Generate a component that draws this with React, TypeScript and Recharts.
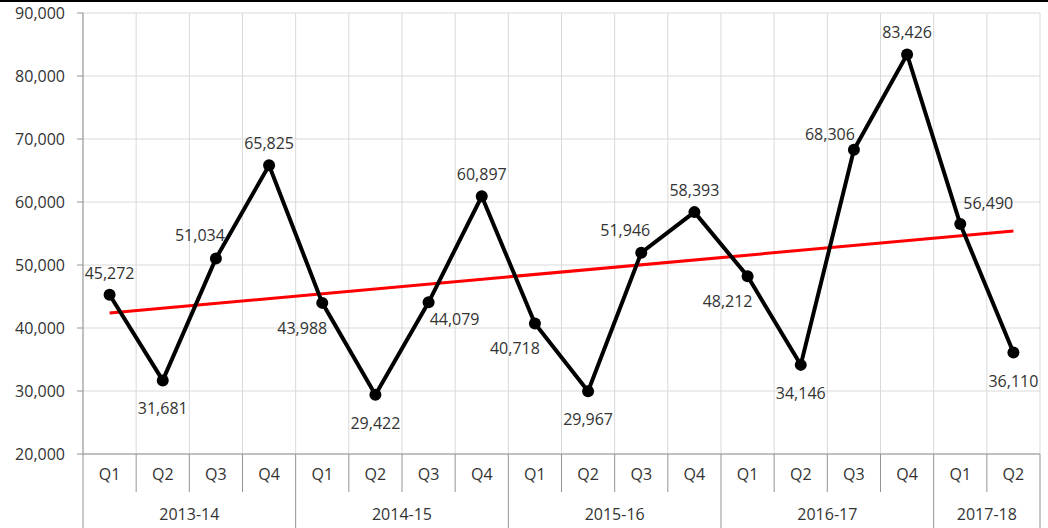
import React from "react";
import { LineChart, Line, XAxis, YAxis, CartesianGrid } from "recharts";

const quarters = ["Q1","Q2","Q3","Q4","Q1","Q2","Q3","Q4","Q1","Q2","Q3","Q4","Q1","Q2","Q3","Q4","Q1","Q2"];
const years = ["2013-14","2014-15","2015-16","2016-17","2017-18"];
const yearQuarterCounts = [4, 4, 4, 4, 2];
const values = [45272,31681,51034,65825,43988,29422,44079,60897,40718,29967,51946,58393,48212,34146,68306,83426,56490,36110];
const labelPlacements = ["above","below","aboveLeft","above","belowLeft","below","belowRight","above","belowLeft","below","aboveLeft","above","belowLeft","below","aboveLeftLow","above","aboveRight","below"];
const trendStart = 42380;
const trendEnd = 55390;
const yTicks = [20000,30000,40000,50000,60000,70000,80000,90000];

const CHART_W = 1048;
const CHART_H = 528;
const Y_AXIS_W = 83;
const MARGIN_TOP = 13;
const MARGIN_RIGHT = 8;
const X_AXIS_H = 74;
const N = values.length;
const PLOT_W = CHART_W - Y_AXIS_W - MARGIN_RIGHT;
const STEP = PLOT_W / N;
const FONT = "'Open Sans', sans-serif";
const TEXT = "#333333";
const AXIS = "#949494";

const groupStart: Record<number, number> = {};
{
  let s = 0;
  yearQuarterCounts.forEach((c, g) => { groupStart[s] = g; s += c; });
}

const data = values.map((v, i) => {
  let acc = 0, yi = 0;
  for (let g = 0; g < yearQuarterCounts.length; g++) {
    if (i < acc + yearQuarterCounts[g]) { yi = g; break; }
    acc += yearQuarterCounts[g];
  }
  return {
    key: years[yi] + " " + quarters[i],
    q: quarters[i],
    value: v,
    trend: i === 0 ? trendStart : i === N - 1 ? trendEnd : null,
  };
});

const offsets: Record<string, [number, number]> = {
  above: [0, -22],
  below: [0, 28],
  aboveLeft: [-16, -23],
  belowLeft: [-20, 25],
  belowRight: [26, 17],
  aboveLeftLow: [-24, -16],
  aboveRight: [28, -21],
};

const fmt = (n: number) => n.toLocaleString("en-US");

const renderLabel = (props: any) => {
  const { x, y, value, index } = props;
  const [dx, dy] = offsets[labelPlacements[index]] || [0, -22];
  return (
    <text key={"l" + index} x={x + dx} y={y + dy} textAnchor="middle" dominantBaseline="central"
      fontFamily={FONT} fontSize={16} fill={TEXT}>
      {fmt(value)}
    </text>
  );
};

const XTick = (props: any) => {
  const { x, y, index } = props;
  const half = STEP / 2;
  const isStart = groupStart[index] !== undefined;
  const els: any[] = [];
  els.push(
    <text key="q" x={x} y={y + 20} textAnchor="middle" dominantBaseline="central"
      fontFamily={FONT} fontSize={16} fill={TEXT}>{quarters[index]}</text>
  );
  els.push(
    <line key="ls" x1={x - half} x2={x - half} y1={y} y2={isStart ? y + X_AXIS_H : y + 38} stroke={AXIS} strokeWidth={1} />
  );
  if (index === N - 1) {
    els.push(<line key="rs" x1={x + half} x2={x + half} y1={y} y2={y + X_AXIS_H} stroke={AXIS} strokeWidth={1} />);
  }
  if (isStart) {
    const g = groupStart[index];
    const cx = x + ((yearQuarterCounts[g] - 1) / 2) * STEP;
    els.push(
      <text key="y" x={cx} y={y + 60} textAnchor="middle" dominantBaseline="central"
        fontFamily={FONT} fontSize={16} fill={TEXT}>{years[g]}</text>
    );
  }
  return <g>{els}</g>;
};

const verticalPoints = Array.from({ length: N + 1 }, (_, k) => Y_AXIS_W + k * STEP);

export default function App() {
  return (
    <div style={{ position: "absolute", left: 0, top: 0, width: CHART_W, height: CHART_H, background: "#fff" }}>
      <div style={{ position: "absolute", left: 0, top: 0, width: CHART_W, height: 2, background: "#000", zIndex: 2 }} />
      <LineChart width={CHART_W} height={CHART_H} data={data}
        margin={{ top: MARGIN_TOP, right: MARGIN_RIGHT, bottom: 0, left: 0 }}>
        <CartesianGrid stroke="#d9d9d9" strokeWidth={1} verticalPoints={verticalPoints} />
        <XAxis dataKey="key" interval={0} padding={{ left: STEP / 2, right: STEP / 2 }}
          height={X_AXIS_H} tickSize={0} tickMargin={0} tickLine={false}
          axisLine={{ stroke: AXIS }} tick={<XTick />} />
        <YAxis domain={[20000, 90000]} ticks={yTicks} width={Y_AXIS_W} interval={0}
          tickFormatter={fmt} tickSize={6} tickMargin={12}
          tickLine={{ stroke: AXIS }} axisLine={{ stroke: AXIS }}
          tick={{ fontFamily: FONT, fontSize: 16, fill: TEXT }} />
        <Line dataKey="trend" stroke="#ff0000" strokeWidth={3} dot={false} connectNulls
          isAnimationActive={false} />
        <Line dataKey="value" stroke="#000" strokeWidth={4}
          dot={{ r: 6, fill: "#000", stroke: "#000", strokeWidth: 0 }}
          activeDot={false} label={renderLabel} isAnimationActive={false} />
      </LineChart>
    </div>
  );
}
